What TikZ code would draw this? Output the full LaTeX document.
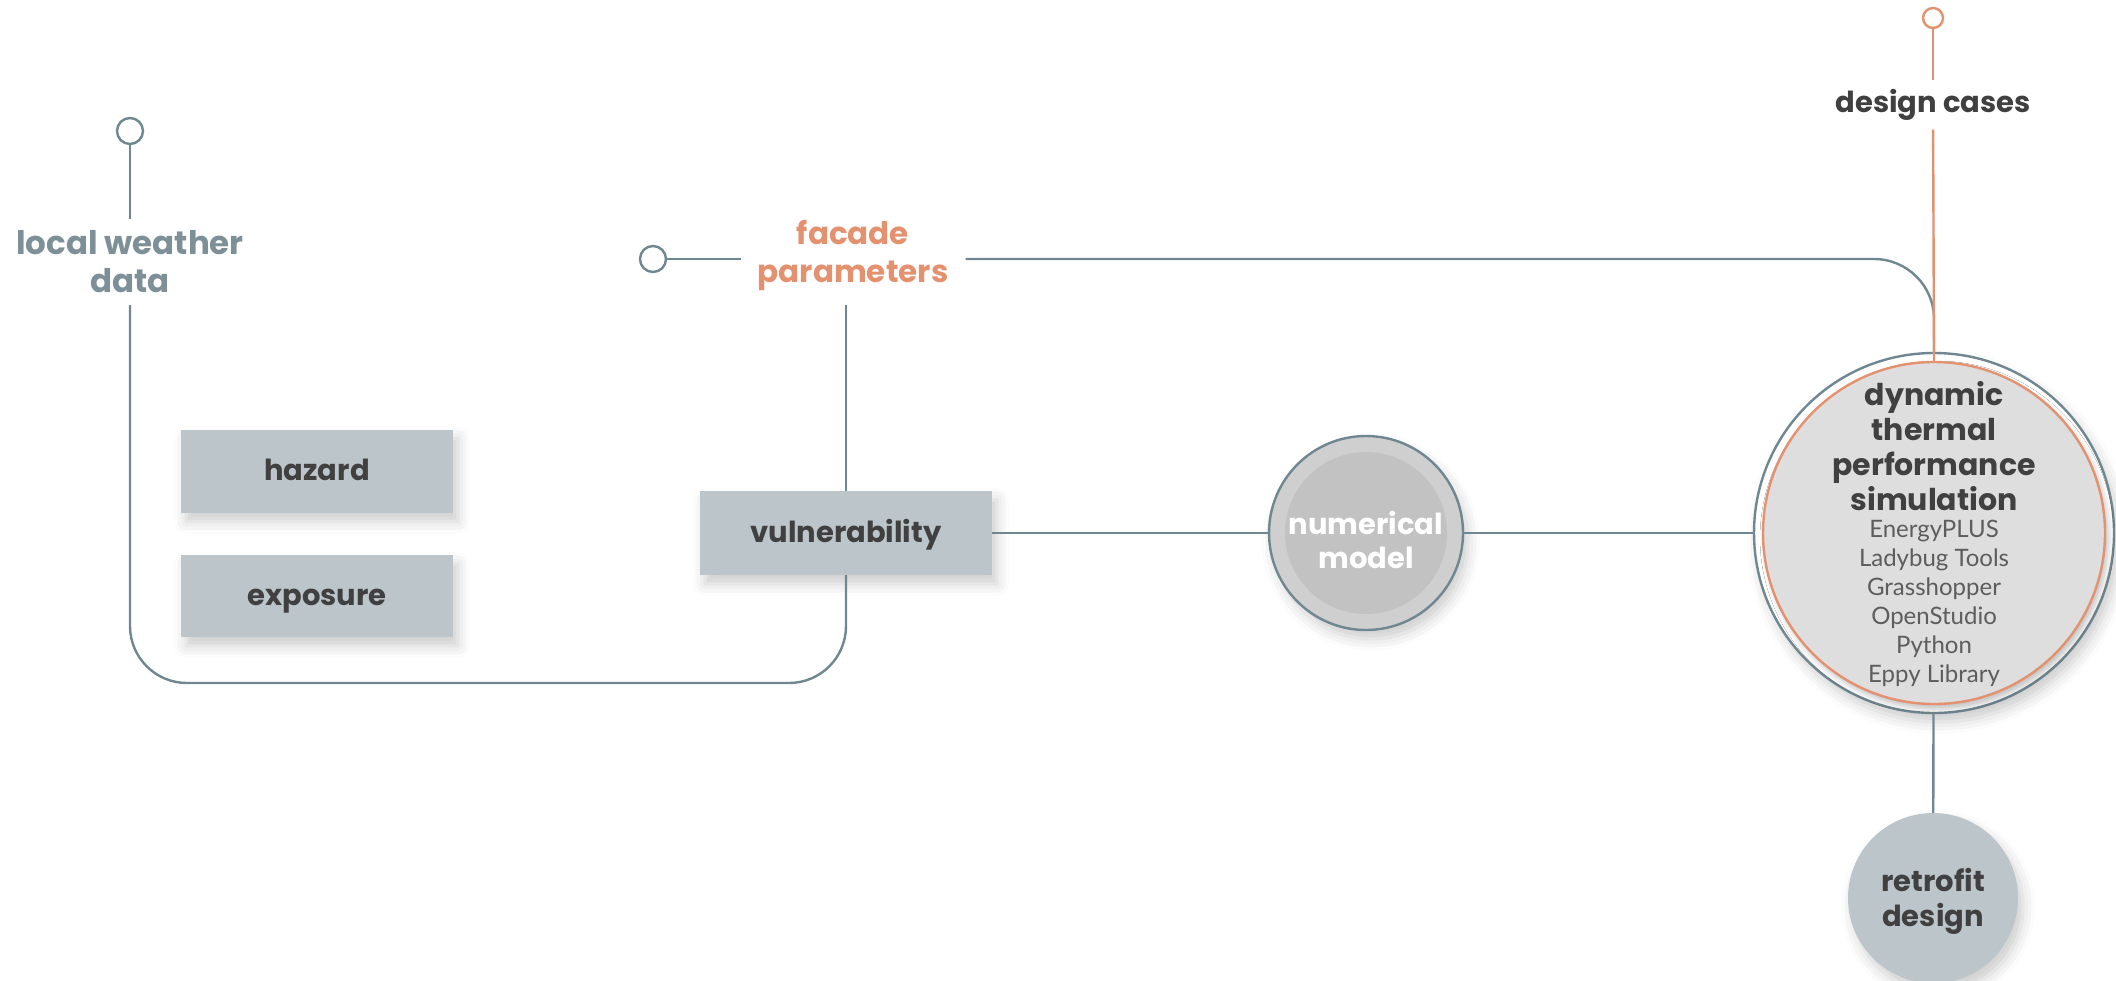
\documentclass[tikz,border=0pt]{standalone}
\usepackage{fontspec}
\setmainfont{Poppins}
\newfontfamily\listfont{Lato}
\usetikzlibrary{positioning,calc,shadows.blur}
\definecolor{fslate}{HTML}{6F8790}
\definecolor{fwlabel}{HTML}{7D8F97}
\definecolor{fsalmon}{HTML}{E3916F}
\definecolor{fbox}{HTML}{BCC5CA}
\definecolor{fink}{HTML}{404040}
\definecolor{fcore}{HTML}{DEDEDE}
\tikzset{
  link/.style    = {draw=fslate, line width=2.4pt},
  port/.style    = {draw=fslate, line width=2.4pt, circle, fill=white,
                    inner sep=0pt, minimum size=26pt},
  softshade/.style = {blur shadow={shadow xshift=5pt, shadow yshift=-9pt,
                    shadow blur radius=12pt, shadow opacity=20}},
  factor/.style  = {fill=fbox, minimum width=272pt, minimum height=83pt,
                    text height=23pt, text depth=5pt, text=fink,
                    font=\fontsize{29}{34}\selectfont\bfseries, softshade},
  heading/.style = {align=center, inner sep=0pt,
                    font=\fontsize{31}{38}\selectfont\bfseries},
  toollist/.style = {align=center, inner sep=0pt, text=fink!85,
                    font=\fontsize{24}{29}\selectfont\listfont},
}

\begin{document}
\begin{tikzpicture}[x=1pt,y=-1pt]
\useasboundingbox (0,0) rectangle (2116,980);
% inputs
\node[port] (wport) at (130,131) {};
\node[heading, text=fwlabel, font=\fontsize{32.5}{38}\selectfont\bfseries, minimum height=86pt] (weather) at (130,262) {local weather\\data};
\node[port] (fport) at (653,259) {};
\node[heading, text=fsalmon, minimum height=100pt, inner xsep=17pt] (facade) at (853,255) {facade\\parameters};
\node[port, draw=fsalmon, minimum size=20pt] (dport) at (1933,18) {};
\node[heading, text=fink, font=\fontsize{29}{34}\selectfont\bfseries, minimum height=49pt] (dcases) at (1933,105) {design cases};
% risk factors
\node[factor] (hazard) at (317,471) {hazard};
\node[factor, minimum height=82pt] (exposure) at (317,596) {exposure};
\node[factor, minimum width=292pt, minimum height=84pt] (vuln) at (846,533) {vulnerability};
% numerical model
\node[circle, draw=fslate, line width=2.4pt, fill=black!19, minimum size=194pt, softshade] (num) at (1366,533) {};
\node[circle, fill=black!24, minimum size=162pt] (numcore) at (num) {};
\node[heading, text=white, font=\fontsize{29}{34}\selectfont\bfseries] (numtext) at ([yshift=-7pt]num.center) {numerical\\model};
% simulation
\node[circle, draw=fslate, line width=2.4pt, fill=white, minimum size=360pt, softshade] (dyn) at (1934,533) {};
\node[circle, draw=fsalmon, line width=2.4pt, fill=fcore, minimum size=342pt,
      blur shadow={shadow xshift=3pt, shadow yshift=-5pt, shadow blur radius=6pt, shadow opacity=25}] (dyncore) at (dyn) {};
\node[heading, text=fink, font=\fontsize{30}{35}\selectfont\bfseries] (dynhead) at ([yshift=87pt]dyn.center) {dynamic\\thermal\\performance\\simulation};
\node[toollist] (dynlist) at ([yshift=-70pt]dyn.center) {EnergyPLUS\\Ladybug Tools\\Grasshopper\\OpenStudio\\Python\\Eppy Library};
% output
\node[circle, fill=fbox, minimum size=170pt, softshade] (retro) at (1933,898) {};
\node[heading, text=fink, font=\fontsize{29}{35}\selectfont\bfseries] (retrotext) at ([yshift=-3pt]retro.center) {retrofit\\design};
% connectors
\coordinate (loopbase) at (480,683);
\draw[link] (wport) -- (weather);
\draw[link, rounded corners=57pt] (weather.south) -- (weather.south |- loopbase)
  -- (vuln.south |- loopbase) -- (vuln.south);
\draw[link] (fport) -- (facade.west |- fport);
\draw[link] (facade.south -| vuln.north) -- (vuln.north);
\draw[link, rounded corners=60pt] (facade.east |- fport) -| (dyn.north);
\draw[link] (vuln) -- (num);
\draw[link] (num) -- (dyn);
\draw[link] (dyn) -- (retro);
\draw[draw=fsalmon, line width=2.4pt] (dport) -- (dcases);
\draw[draw=fsalmon, line width=2.4pt] (dcases) -- (dyncore.north);
\end{tikzpicture}
\end{document}
